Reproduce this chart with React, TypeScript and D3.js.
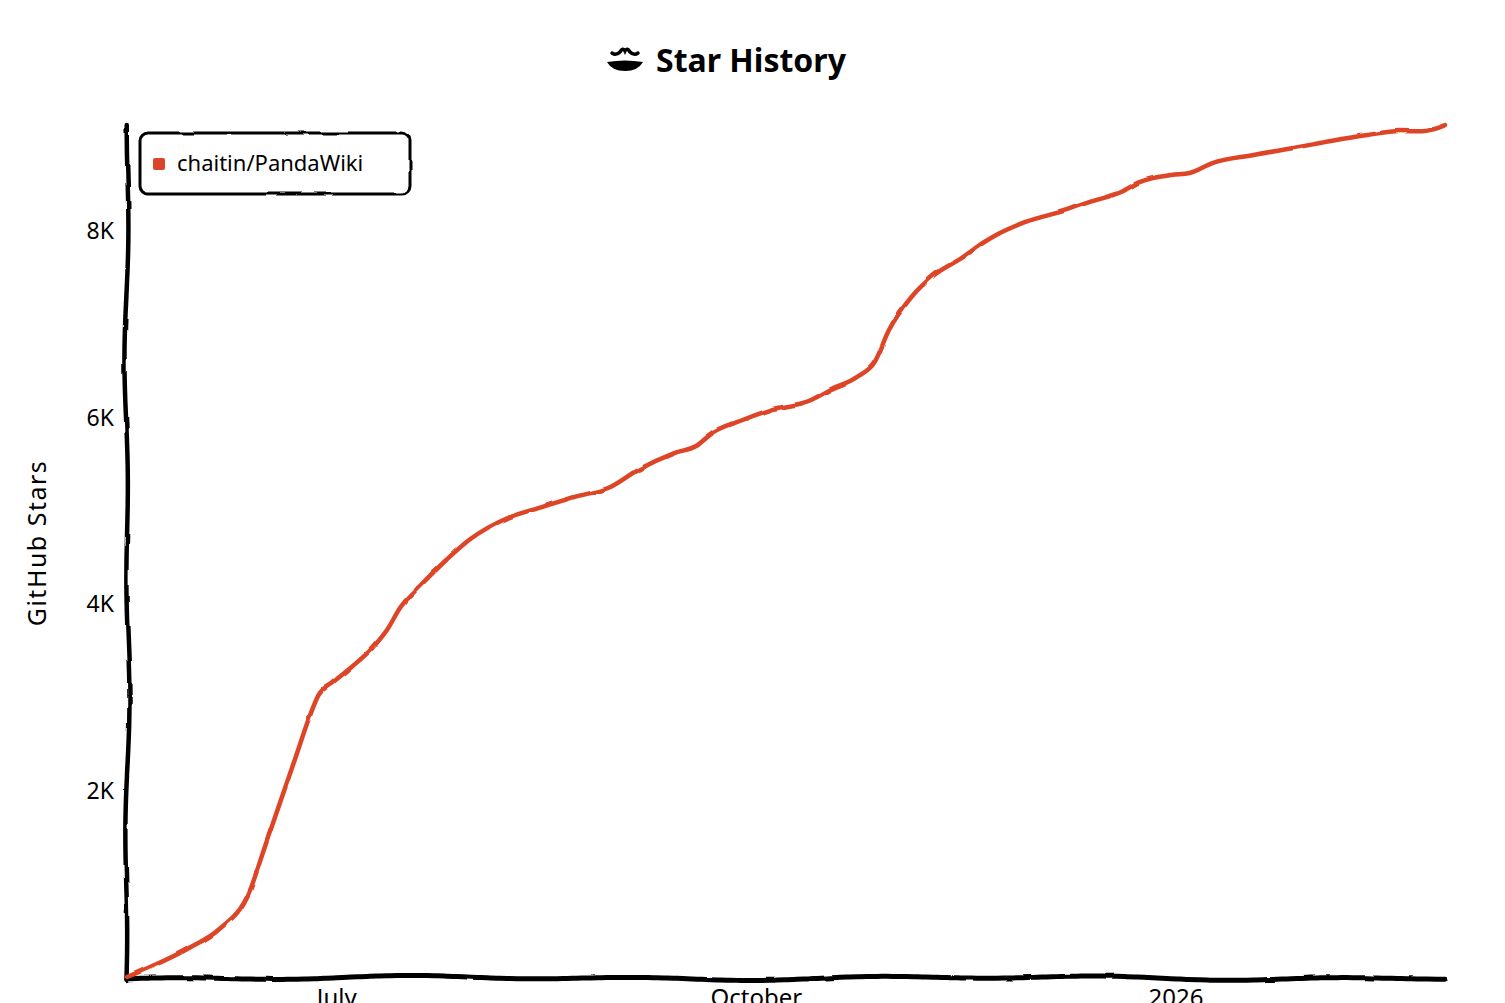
import { useEffect, useRef } from "react";
import * as d3 from "d3";

const TITLE = "Star History";
const SERIES_NAME = "chaitin/PandaWiki";
const Y_LABEL = "GitHub Stars";
const LINE_COLOR = "#dd4528";

const dates = [
  "2025-05-16", "2025-05-30", "2025-06-05", "2025-06-12", "2025-06-15", "2025-06-18",
  "2025-06-22", "2025-06-25", "2025-06-27", "2025-06-30", "2025-07-04", "2025-07-09",
  "2025-07-12", "2025-07-15", "2025-07-19", "2025-07-25", "2025-07-30", "2025-08-08",
  "2025-08-15", "2025-08-22", "2025-08-30", "2025-09-05", "2025-09-13", "2025-09-18",
  "2025-09-21", "2025-09-28", "2025-10-04", "2025-10-13", "2025-10-17", "2025-10-23",
  "2025-10-27", "2025-10-30", "2025-11-04", "2025-11-09", "2025-11-15", "2025-11-20",
  "2025-11-23", "2025-11-29", "2025-12-08", "2025-12-13", "2025-12-20", "2025-12-24",
  "2025-12-31", "2026-01-04", "2026-01-09", "2026-01-18", "2026-01-28", "2026-02-04",
  "2026-02-12", "2026-02-19", "2026-02-24", "2026-03-01",
];

const stars = [
  0, 322, 504, 933, 1362, 1791,
  2359, 2788, 3024, 3153, 3314, 3539,
  3721, 3968, 4182, 4472, 4686, 4933,
  5040, 5147, 5255, 5437, 5619, 5700,
  5820, 5973, 6080, 6188, 6295, 6434,
  6600, 6930, 7292, 7528, 7710, 7882,
  7968, 8097, 8225, 8311, 8418, 8525,
  8601, 8622, 8729, 8815, 8901, 8965,
  9029, 9072, 9070, 9137,
];

const yTicks = [2000, 4000, 6000, 8000];
const xTicks = [
  { date: "2025-07-01", label: "July" },
  { date: "2025-10-01", label: "October" },
  { date: "2026-01-01", label: "2026" },
];

const W = 1505;
const H = 1003;
const LEFT = 127;
const RIGHT = 1445;
const TOP = 125;
const BOTTOM = 977;
const FONT = "'Noto Sans', 'DejaVu Sans', sans-serif";

export default function App() {
  const svgRef = useRef<SVGSVGElement>(null);

  useEffect(() => {
    const svg = d3.select(svgRef.current);
    svg.selectAll("*").remove();
    svg.attr("width", W).attr("height", H).attr("viewBox", `0 0 ${W} ${H}`);

    // hand-drawn roughness filter for strokes
    const defs = svg.append("defs");
    const f = defs.append("filter").attr("id", "xkcdify").attr("filterUnits", "userSpaceOnUse")
      .attr("x", -10).attr("y", -10).attr("width", W + 20).attr("height", H + 20);
    f.append("feTurbulence").attr("type", "fractalNoise").attr("baseFrequency", 0.05).attr("result", "noise");
    f.append("feDisplacementMap").attr("scale", 3).attr("xChannelSelector", "R")
      .attr("yChannelSelector", "G").attr("in", "SourceGraphic").attr("in2", "noise");

    svg.append("rect").attr("width", W).attr("height", H).attr("fill", "#ffffff");

    const parse = d3.timeParse("%Y-%m-%d");
    const data = dates.map((d, i) => ({ date: parse(d) as Date, value: stars[i] }));

    const x = d3.scaleTime()
      .domain([data[0].date, data[data.length - 1].date])
      .range([LEFT, RIGHT]);
    const y = d3.scaleLinear()
      .domain([0, d3.max(stars) ?? 1])
      .range([BOTTOM, TOP]);

    const g = svg.append("g").attr("filter", "url(#xkcdify)");
    const t = svg.append("g");

    // title with logo
    const logo = t.append("g").attr("transform", "translate(625,60)");
    logo.append("path")
      .attr("d", "M-13,-7 Q-9,-4 -5,-8 Q-2,-13 0,-9 Q2,-13 5,-8 Q9,-4 13,-7")
      .attr("fill", "none").attr("stroke", "#000").attr("stroke-width", 3.5).attr("stroke-linecap", "round");
    logo.append("path")
      .attr("d", "M-18,2 Q0,-1 18,2 Q13,11 0,11 Q-13,11 -18,2 Z")
      .attr("fill", "#000");
    t.append("text")
      .attr("x", 751).attr("y", 72)
      .attr("text-anchor", "middle")
      .attr("font-family", FONT).attr("font-weight", "bold").attr("font-size", 32)
      .attr("fill", "#000")
      .text(TITLE);

    // axes
    const wobble = (v: number) => Math.sin(v / 37) * 1.4 + Math.sin(v / 91) * 1.2;
    const xs = d3.range(LEFT, RIGHT, 10).concat([RIGHT]);
    const ys = d3.range(TOP, BOTTOM, 10).concat([BOTTOM + 3]);
    const xAxisPts: [number, number][] = xs.map((px) => [px, BOTTOM + 1 + wobble(px)]);
    const yAxisPts: [number, number][] = ys.map((py) => [LEFT + wobble(py + 50), py]);
    const axisLine = d3.line().curve(d3.curveBasis);
    g.append("path").attr("d", axisLine(yAxisPts)).attr("fill", "none")
      .attr("stroke", "#000").attr("stroke-width", 4.5).attr("stroke-linecap", "round");
    g.append("path").attr("d", axisLine(xAxisPts)).attr("fill", "none")
      .attr("stroke", "#000").attr("stroke-width", 5).attr("stroke-linecap", "round");

    // y tick labels
    t.selectAll(".ytick").data(yTicks).enter().append("text")
      .attr("x", 114).attr("y", (d) => y(d))
      .attr("dy", "0.35em")
      .attr("text-anchor", "end")
      .attr("font-family", FONT).attr("font-size", 23).attr("fill", "#000")
      .text((d) => `${d / 1000}K`);

    // x tick labels (partly below the frame, as in the source)
    t.selectAll(".xtick").data(xTicks).enter().append("text")
      .attr("x", (d) => x(parse(d.date) as Date)).attr("y", 1006)
      .attr("text-anchor", "middle")
      .attr("font-family", FONT).attr("font-size", 24).attr("fill", "#000")
      .text((d) => d.label);

    // y axis label
    t.append("text")
      .attr("transform", "translate(46,543) rotate(-90)")
      .attr("text-anchor", "middle")
      .attr("font-family", FONT).attr("font-size", 25).attr("letter-spacing", 1.5).attr("fill", "#000")
      .text(Y_LABEL);

    // series line
    const line = d3.line<{ date: Date; value: number }>()
      .x((d) => x(d.date))
      .y((d) => y(d.value))
      .curve(d3.curveMonotoneX);
    g.append("path")
      .datum(data)
      .attr("d", line)
      .attr("fill", "none")
      .attr("stroke", LINE_COLOR)
      .attr("stroke-width", 4.5)
      .attr("stroke-linecap", "round")
      .attr("stroke-linejoin", "round");

    // legend
    g.append("rect")
      .attr("x", 140).attr("y", 133).attr("width", 270).attr("height", 61)
      .attr("rx", 8)
      .attr("fill", "#fff").attr("stroke", "#000").attr("stroke-width", 3);
    t.append("rect")
      .attr("x", 153).attr("y", 158).attr("width", 12).attr("height", 12).attr("rx", 2)
      .attr("fill", LINE_COLOR);
    t.append("text")
      .attr("x", 177).attr("y", 163).attr("dy", "0.35em")
      .attr("font-family", FONT).attr("font-size", 22).attr("fill", "#000")
      .text(SERIES_NAME);
  }, []);

  return (
    <svg ref={svgRef} style={{ position: "absolute", left: 0, top: 0, display: "block" }} />
  );
}
